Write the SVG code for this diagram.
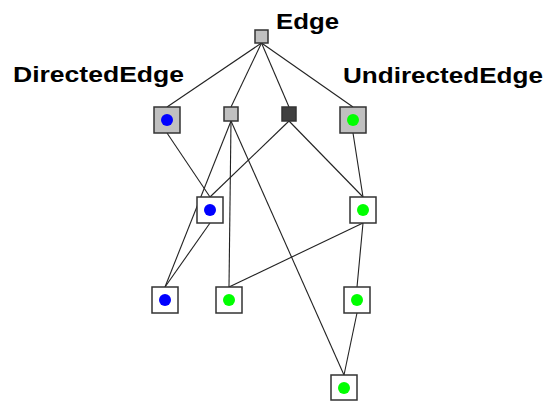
<svg xmlns="http://www.w3.org/2000/svg" width="547" height="402" viewBox="0 0 547 402">
  <style>
    .lbl { font-family: "Liberation Sans", Arial, sans-serif; font-weight: bold; font-size: 22px; fill: #000; }
    .edge { stroke: #222; stroke-width: 1.1; fill: none; }
    .box { stroke: #333; stroke-width: 1.5; }
    .gray { fill: #c0c0c0; }
    .dark { fill: #404040; }
    .white { fill: #fff; }
    .blue { fill: #0000ff; }
    .green { fill: #00ff00; }
  </style>
  <rect width="547" height="402" fill="#fff"/>

  <g id="connectors">
    <!-- from the root -->
    <line class="edge" x1="261.5" y1="43" x2="167" y2="107"/>
    <line class="edge" x1="261.5" y1="43" x2="231" y2="107"/>
    <line class="edge" x1="261.5" y1="43" x2="289" y2="107"/>
    <line class="edge" x1="261.5" y1="43" x2="353" y2="107"/>
    <!-- second row down -->
    <line class="edge" x1="167" y1="133" x2="210" y2="197"/>
    <line class="edge" x1="289" y1="121" x2="210" y2="197"/>
    <line class="edge" x1="289" y1="121" x2="363" y2="197"/>
    <line class="edge" x1="353" y1="133" x2="363" y2="197"/>
    <line class="edge" x1="231" y1="121" x2="165" y2="287"/>
    <line class="edge" x1="231" y1="121" x2="229" y2="287"/>
    <line class="edge" x1="231" y1="121" x2="344" y2="375"/>
    <!-- third row down -->
    <line class="edge" x1="210" y1="223" x2="165" y2="287"/>
    <line class="edge" x1="363" y1="223" x2="229" y2="287"/>
    <line class="edge" x1="363" y1="223" x2="357" y2="287"/>
    <line class="edge" x1="357" y1="313" x2="344" y2="375"/>
  </g>

  <g id="edge">
    <rect class="box gray" x="255" y="30" width="13" height="13"/>
    <text class="lbl" x="276" y="29" textLength="63" lengthAdjust="spacingAndGlyphs">Edge</text>
  </g>
  <g id="directed-edge">
    <rect class="box gray" x="154" y="107" width="26" height="26"/>
    <circle class="blue" cx="167" cy="120" r="6"/>
    <text class="lbl" x="13" y="82" textLength="171" lengthAdjust="spacingAndGlyphs">DirectedEdge</text>
  </g>
  <g id="mid-gray">
    <rect class="box gray" x="224" y="107" width="14" height="14"/>
  </g>
  <g id="mid-dark">
    <rect class="box dark" x="282" y="107" width="14" height="14"/>
  </g>
  <g id="undirected-edge">
    <rect class="box gray" x="340" y="107" width="26" height="26"/>
    <circle class="green" cx="353" cy="120" r="6"/>
    <text class="lbl" x="343" y="83" textLength="200" lengthAdjust="spacingAndGlyphs">UndirectedEdge</text>
  </g>
  <g id="blue-a">
    <rect class="box white" x="197" y="197" width="26" height="26"/>
    <circle class="blue" cx="210" cy="210" r="6"/>
  </g>
  <g id="green-a">
    <rect class="box white" x="350" y="197" width="26" height="26"/>
    <circle class="green" cx="363" cy="210" r="6"/>
  </g>
  <g id="blue-b">
    <rect class="box white" x="152" y="287" width="26" height="26"/>
    <circle class="blue" cx="165" cy="300" r="6"/>
  </g>
  <g id="green-b">
    <rect class="box white" x="216" y="287" width="26" height="26"/>
    <circle class="green" cx="229" cy="300" r="6"/>
  </g>
  <g id="green-c">
    <rect class="box white" x="344" y="287" width="26" height="26"/>
    <circle class="green" cx="357" cy="300" r="6"/>
  </g>
  <g id="green-d">
    <rect class="box white" x="331" y="375" width="26" height="25"/>
    <circle class="green" cx="344" cy="388" r="6"/>
  </g>
</svg>
